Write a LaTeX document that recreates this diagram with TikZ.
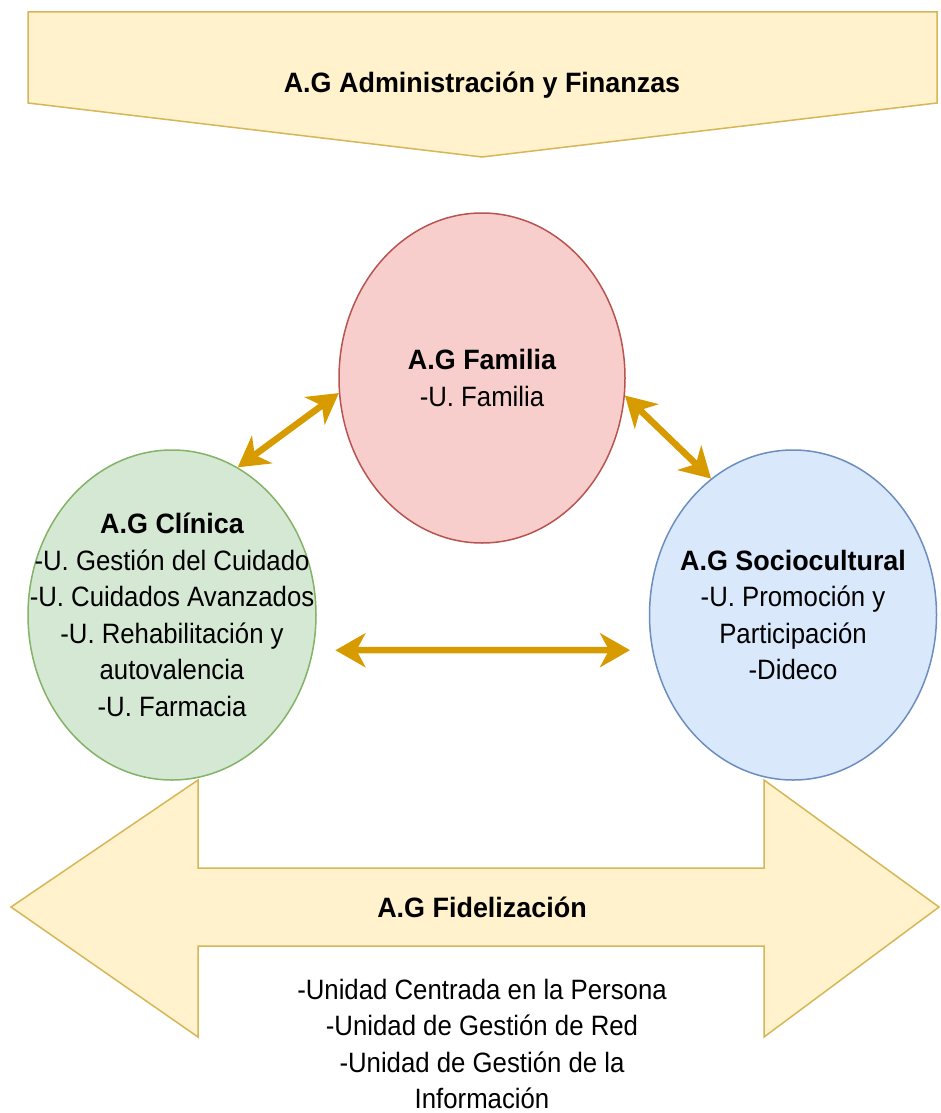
\documentclass[tikz,border=0pt]{standalone}
\usepackage{fontspec}
\setmainfont{Liberation Sans}
\usetikzlibrary{shapes.geometric,arrows.meta}
\definecolor{yfill}{HTML}{FFF2CC}
\definecolor{ydraw}{HTML}{D6B656}
\definecolor{rfill}{HTML}{F8CECC}
\definecolor{rdraw}{HTML}{B85450}
\definecolor{gfill}{HTML}{D5E8D4}
\definecolor{gdraw}{HTML}{82B366}
\definecolor{bfill}{HTML}{DAE8FC}
\definecolor{bdraw}{HTML}{6C8EBF}
\definecolor{arr}{HTML}{D79B00}
\newcommand\bt[1]{\scalebox{1.045}[1]{\bfseries #1}}
\tikzset{
  yshape/.style={fill=yfill,draw=ydraw,line width=1.5pt,line join=miter},
  ell/.style={ellipse,minimum width=288pt,minimum height=330pt,inner sep=0pt,line width=1.5pt},
  txt/.style={align=center,inner sep=0pt,font=\fontsize{28}{36.5}\selectfont,transform shape,xscale=0.92},
  biarrow/.style={draw=arr,line width=6.5pt,{Stealth[length=30pt,width=34pt,inset=9pt]}-{Stealth[length=30pt,width=34pt,inset=9pt]}}
}
\begin{document}
\begin{tikzpicture}[x=1pt,y=-1pt]
\useasboundingbox (0,0) rectangle (941,1113);
% top pentagon
\draw[yshape] (28,12) -- (937,12) -- (937,103) -- (482,157) -- (28,103) -- cycle;
\node[txt] (adm) at (482,85) {\bt{A.G Administración y Finanzas}};
% bottom double arrow
\draw[yshape] (11,907) -- (198,780) -- (198,868) -- (764,868) -- (764,780) -- (939,907) -- (764,1037) -- (764,946) -- (198,946) -- (198,1037) -- cycle;
\node[txt] (fid) at (482,907) {\bt{A.G Fidelización}};
\node[txt] (fidt) at (482,1044) {-Unidad Centrada en la Persona\\-Unidad de Gestión de Red\\-Unidad de Gestión de la\\Información};
% ellipses
\node[ell,fill=rfill,draw=rdraw,minimum width=286pt] (fam) at (482,378) {};
\node[ell,fill=gfill,draw=gdraw] (cli) at (172,615) {};
\node[ell,fill=bfill,draw=bdraw,minimum width=287pt] (soc) at (793,615) {};
\node[txt] (famt) at (fam.center) {\bt{A.G Familia}\\-U. Familia};
\node[txt] (clit) at (cli.center) {\bt{A.G Clínica}\\-U. Gestión del Cuidado\\-U. Cuidados Avanzados\\-U. Rehabilitación y\\autovalencia\\-U. Farmacia};
\node[txt] (soct) at (soc.center) {\bt{A.G Sociocultural}\\-U. Promoción y\\Participación\\-Dideco};
% arrows
\draw[biarrow] (cli.66) -- (fam.186);
\draw[biarrow] (fam.-7) -- (soc.121);
\draw[biarrow,shorten <=22pt,shorten >=22pt] (cli.-14.8) -- (soc.194.8);
\end{tikzpicture}
\end{document}
